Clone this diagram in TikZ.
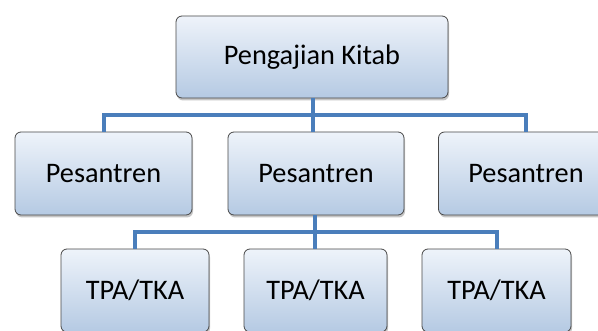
\documentclass[tikz,border=0pt]{standalone}
\usepackage{fontspec}
\setmainfont{Carlito}
\usetikzlibrary{shadows}
\definecolor{conncol}{HTML}{4A7EBB}
\definecolor{boxtop}{HTML}{EEF3FA}
\definecolor{boxbot}{HTML}{B5CAE3}
\definecolor{boxline}{HTML}{484848}
\tikzset{
  orgbox/.style={rectangle, rounded corners=6pt, draw=boxline, line width=0.8pt,
    top color=boxtop, bottom color=boxbot, inner sep=0pt,
    drop shadow={opacity=0.45, shadow xshift=1pt, shadow yshift=-2.5pt},
    font=\fontsize{28.3}{34}\selectfont},
  conn/.style={draw=conncol, line width=4pt}
}
\begin{document}
\begin{tikzpicture}[x=1pt,y=1pt]
\useasboundingbox (0,0) rectangle (598,330);
\clip (0,0) rectangle (598,330);
\fill[white] (0,0) rectangle (598,330);
\coordinate (bus1) at (313,215);
\coordinate (bus2) at (315,98.5);
\node[orgbox, minimum width=272pt, minimum height=82pt] (top) at (312,273) {Pengajian Kitab};
\node[orgbox, minimum width=177pt, minimum height=83pt] (p1) at (103.5,156.5) {Pesantren};
\node[orgbox, minimum width=176pt, minimum height=83pt] (p2) at (316,156.5) {Pesantren};
\node[orgbox, minimum width=175pt, minimum height=83pt] (p3) at (526,156.5) {Pesantren};
\node[orgbox, minimum width=148pt, minimum height=83pt] (t1) at (135,39.5) {TPA/TKA};
\node[orgbox, minimum width=143pt, minimum height=83pt] (t2) at (315.5,39.5) {TPA/TKA};
\node[orgbox, minimum width=149pt, minimum height=83pt] (t3) at (496.5,39.5) {TPA/TKA};
\draw[conn] (top.south -| bus1) -- (bus1);
\draw[conn] (p1.north) -- (p1.north |- bus1) -- (p3.north |- bus1) -- (p3.north);
\draw[conn] (bus1) -- (bus1 |- p2.north);
\draw[conn] (p2.south -| bus2) -- (bus2);
\draw[conn] (t1.north) -- (t1.north |- bus2) -- (t3.north |- bus2) -- (t3.north);
\draw[conn] (bus2) -- (bus2 |- t2.north);
\end{tikzpicture}
\end{document}
